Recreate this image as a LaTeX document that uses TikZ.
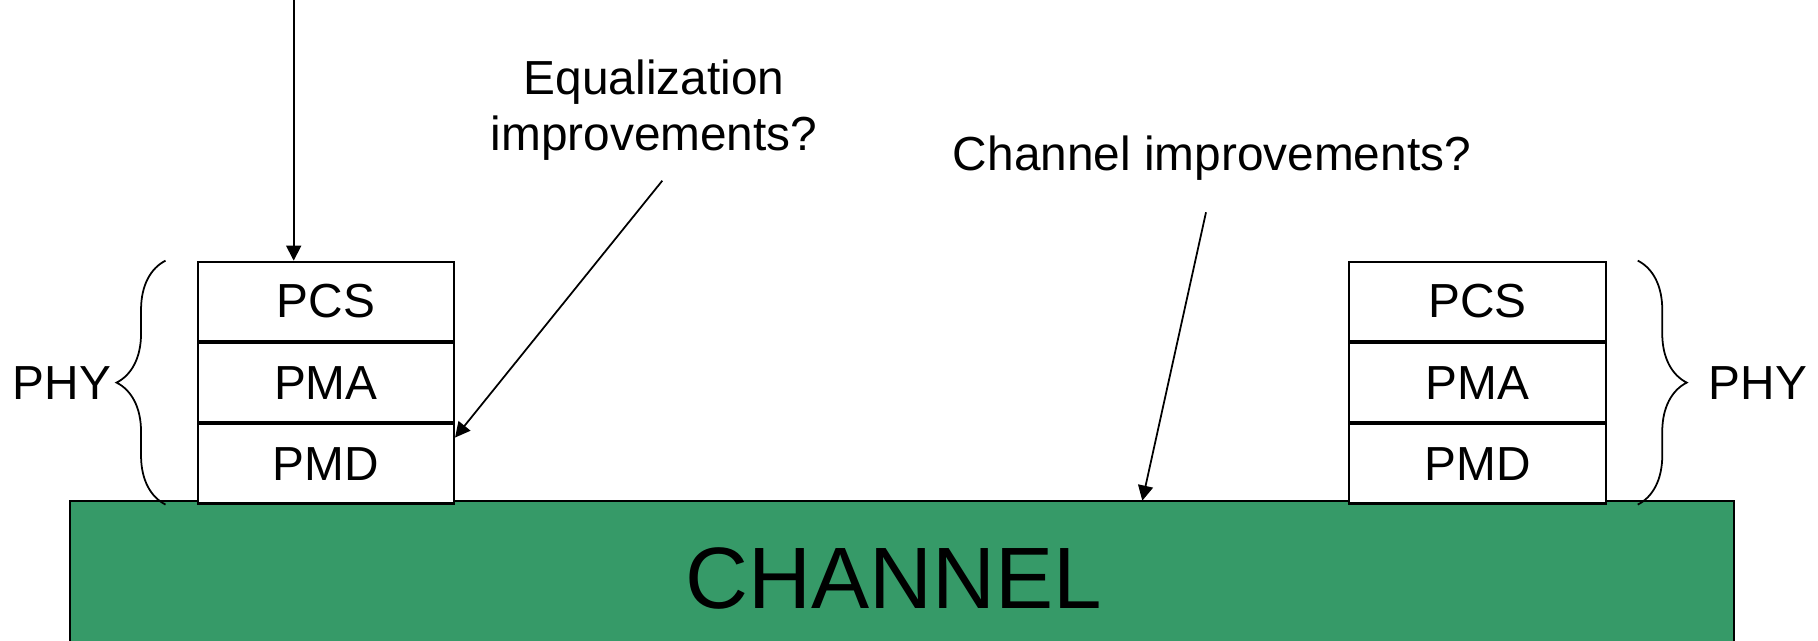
\documentclass[tikz,border=0pt]{standalone}
\usepackage{fontspec}
\setmainfont{Liberation Sans}
\usepackage{tikz}
\usetikzlibrary{arrows.meta, positioning, decorations.pathreplacing}
\definecolor{chgreen}{RGB}{54,154,104}

\begin{document}
\begin{tikzpicture}[
  layer/.style={rectangle, draw, line width=0.6pt, fill=white, minimum width=2.564cm,
                minimum height=0.792cm, inner sep=0pt,
                font=\fontsize{13.6}{15.6}\selectfont},
  lbl/.style={inner sep=0pt, align=center, font=\fontsize{13.6}{15.9}\selectfont},
  chan/.style={rectangle, draw, line width=0.6pt, fill=chgreen,
               minimum width=16.64cm, minimum height=1.5cm, inner sep=0pt},
  arr/.style={-{Triangle[length=4.3pt, width=4.3pt]}, line width=0.5pt},
  brc/.style={decorate, decoration={brace, amplitude=0.49cm}, line width=0.5pt},
]
\clip (0,0) rectangle (18.18,-6.41);

%% ---- channel ----
\node[chan] (ch) at (9.02,-5.757) {};
\node[inner sep=0pt, font=\fontsize{24.8}{28}\selectfont] (chtxt) at (8.94,-5.787) {CHANNEL};

%% ---- left stack ----
\node[layer] (pcsL) at (3.258,-3.013) {PCS};
\node[layer, below=0pt of pcsL] (pmaL) {PMA};
\node[layer, below=0pt of pmaL] (pmdL) {PMD};
\draw[brc] ([xshift=-0.31cm]pmdL.south west) -- ([xshift=-0.31cm]pcsL.north west);
\node[lbl] (phyL) at (0.62,-3.827) {PHY};

%% ---- right stack ----
\node[layer] (pcsR) at (14.775,-3.013) {PCS};
\node[layer, below=0pt of pcsR] (pmaR) {PMA};
\node[layer, below=0pt of pmaR] (pmdR) {PMD};
\draw[brc] ([xshift=0.31cm]pcsR.north east) -- ([xshift=0.31cm]pmdR.south east);
\node[lbl] (phyR) at (17.58,-3.827) {PHY};

%% ---- questions ----
\node[lbl, anchor=base] (eq) at (6.54,-1.505) {Equalization\\improvements?};
\node[lbl, anchor=base] (chimp) at (12.12,-1.71) {Channel improvements?};

%% arrows
\coordinate (inTop) at (2.937,0.05);
\draw[arr] (inTop) -- (inTop |- pcsL.north);
\coordinate (eqFrom) at (6.623,-1.807);
\draw[arr] (eqFrom) -- ([yshift=-0.143cm]pmdL.north east);
\coordinate (chFrom) at (12.06,-2.123);
\coordinate (chTo) at (11.423,-5.007);
\draw[arr] (chFrom) -- (chTo);

\end{tikzpicture}
\end{document}
